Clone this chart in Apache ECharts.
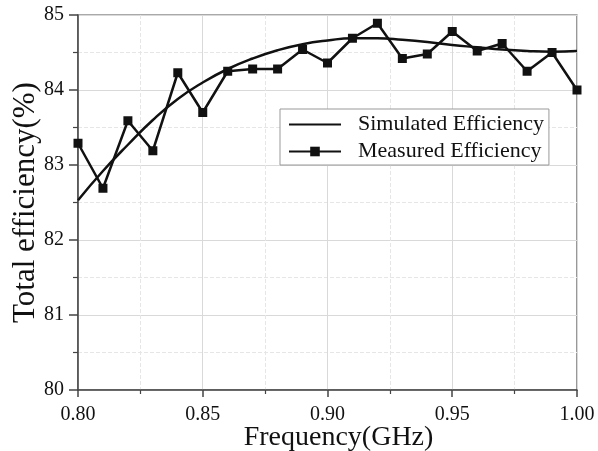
<!DOCTYPE html>
<html>
<head>
<meta charset="utf-8">
<script src="https://cdn.jsdelivr.net/npm/echarts@6/dist/echarts.min.js"></script>
<style>
html,body{margin:0;padding:0;background:#fff;}
#chart{width:598px;height:451px;}
</style>
</head>
<body>
<div id="chart"></div>
<script>
var frequency = [0.80,0.81,0.82,0.83,0.84,0.85,0.86,0.87,0.88,0.89,0.90,0.91,0.92,0.93,0.94,0.95,0.96,0.97,0.98,0.99,1.00];
var measured = [83.29,82.69,83.59,83.19,84.23,83.70,84.25,84.28,84.28,84.54,84.36,84.69,84.89,84.42,84.48,84.78,84.52,84.62,84.25,84.50,84.00];
var simulated = [82.53,82.92,83.27,83.60,83.88,84.10,84.28,84.42,84.53,84.61,84.66,84.69,84.69,84.67,84.64,84.60,84.57,84.54,84.52,84.51,84.52];
var xTicks = ['0.80','0.85','0.90','0.95','1.00'];
var yTicks = ['80','81','82','83','84','85'];
var seriesNames = ['Simulated Efficiency','Measured Efficiency'];

function pairs(xs, ys){ return xs.map(function(x,i){return [x, ys[i]];}); }

var font = '"Liberation Serif","Times New Roman",serif';
var chart = echarts.init(document.getElementById('chart'), null, {renderer:'canvas'});
chart.setOption({
  animation:false,
  backgroundColor:'#fff',
  grid:{left:78, right:21, top:15, bottom:61, containLabel:false, outerBoundsMode:'none',
        show:true, borderColor:'#555', borderWidth:1.2, backgroundColor:'transparent'},
  legend:{
    orient:'vertical', left:280, top:109,
    data:[{name:seriesNames[0], itemStyle:{opacity:0}},{name:seriesNames[1]}],
    borderColor:'#999', borderWidth:1, backgroundColor:'#fff',
    padding:[4,5,2,8], itemGap:4, itemWidth:52, itemHeight:12,
    textStyle:{fontFamily:font, fontSize:22, color:'#111', lineHeight:23, padding:[0,0,0,12]}
  },
  xAxis:{
    type:'value', min:0.8, max:1.0, interval:0.05,
    name:'Frequency(GHz)', nameLocation:'middle', nameGap:34, nameMoveOverlap:false,
    nameTextStyle:{fontFamily:font, fontSize:28, color:'#111', padding:[0,0,0,22]},
    axisLine:{show:true, onZero:false, lineStyle:{color:'#444', width:1.5}},
    axisTick:{show:true, inside:false, length:7, lineStyle:{color:'#444', width:1.5}},
    minorTick:{show:true, splitNumber:2, length:4, lineStyle:{color:'#444', width:1.2}},
    axisLabel:{fontFamily:font, fontSize:20, color:'#111', margin:15,
      formatter:function(v){ var s=v.toFixed(2); return xTicks.indexOf(s)>=0?s:''; }},
    splitLine:{show:true, lineStyle:{color:'#d9d9d9', width:1}},
    minorSplitLine:{show:true, lineStyle:{color:'#e6e6e6', width:1, type:'dashed'}}
  },
  yAxis:{
    type:'value', min:80, max:85, interval:1,
    name:'Total efficiency(%)', nameLocation:'middle', nameGap:37, nameRotate:90, nameMoveOverlap:false,
    nameTextStyle:{fontFamily:font, fontSize:31, color:'#111'},
    axisLine:{show:true, onZero:false, lineStyle:{color:'#444', width:1.5}},
    axisTick:{show:true, inside:false, length:9, lineStyle:{color:'#444', width:1.5}},
    minorTick:{show:true, splitNumber:2, length:5, lineStyle:{color:'#444', width:1.2}},
    axisLabel:{fontFamily:font, fontSize:20, color:'#111', margin:14,
      formatter:function(v){ var s=String(Math.round(v)); return yTicks.indexOf(s)>=0?s:''; }},
    splitLine:{show:true, lineStyle:{color:'#d9d9d9', width:1}},
    minorSplitLine:{show:true, lineStyle:{color:'#e6e6e6', width:1, type:'dashed'}}
  },
  series:[
    {name:seriesNames[0], type:'line', data:pairs(frequency, simulated), smooth:true,
     symbol:'none', lineStyle:{color:'#111', width:2.5}, itemStyle:{color:'#111'}},
    {name:seriesNames[1], type:'line', data:pairs(frequency, measured),
     symbol:'rect', symbolSize:9, showAllSymbol:true,
     lineStyle:{color:'#111', width:2.5}, itemStyle:{color:'#111'}}
  ]
});
</script>
</body>
</html>
